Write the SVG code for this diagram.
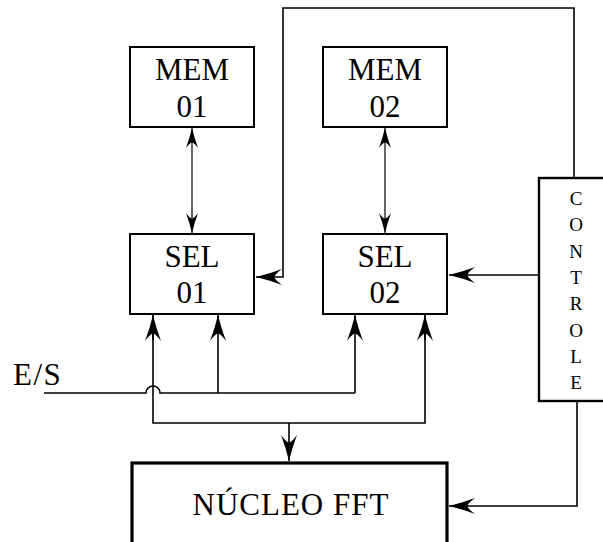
<svg xmlns="http://www.w3.org/2000/svg" width="603" height="542" viewBox="0 0 603 542">
  <style>
    .box { fill: #fff; stroke: #000; stroke-width: 2; }
    .thick { fill: #fff; stroke: #000; stroke-width: 3.2; }
    .lbl { font-family: "Liberation Serif", "DejaVu Serif", serif; font-size: 31px; fill: #000; text-anchor: middle; }
    .ctl { font-family: "Liberation Serif", "DejaVu Serif", serif; font-size: 19px; fill: #000; text-anchor: middle; }
    .wire { fill: none; stroke: #000; stroke-width: 1.6; }
    .thin { fill: none; stroke: #000; stroke-width: 1.2; }
  </style>
  <defs>
    <marker id="arr" markerUnits="userSpaceOnUse" markerWidth="27" markerHeight="17" refX="26" refY="8" orient="auto" overflow="visible">
      <path d="M26,8 Q12.5,4.8 0,0 Q7.5,5.5 7.5,8 Q7.5,10.5 0,16 Q12.5,11.2 26,8 Z" fill="#000"/>
    </marker>
    <marker id="arrs" markerUnits="userSpaceOnUse" markerWidth="21" markerHeight="13" refX="20" refY="6" orient="auto-start-reverse" overflow="visible">
      <path d="M20,6 Q10,3.6 0,0 Q5.5,4 5.5,6 Q5.5,8 0,12 Q10,8.4 20,6 Z" fill="#000"/>
    </marker>
  </defs>

  <g id="connectors">
    <!-- memory <-> selector links -->
    <line class="thin" x1="192" y1="128" x2="192" y2="233" marker-start="url(#arrs)" marker-end="url(#arrs)"/>
    <line class="thin" x1="385" y1="128" x2="385" y2="233" marker-start="url(#arrs)" marker-end="url(#arrs)"/>
    <!-- control to SEL 01 via top route -->
    <polyline class="wire" points="574,178 574,8 283,8 283,277 256,277" marker-end="url(#arr)"/>
    <!-- control to SEL 02 -->
    <line class="wire" x1="538" y1="275" x2="449" y2="275" marker-end="url(#arr)"/>
    <!-- control to FFT core -->
    <polyline class="wire" points="577,402 577,506 449,506" marker-end="url(#arr)"/>
    <!-- E/S input line with hop over the bus riser -->
    <path class="wire" d="M44,393 L146,393 A7,7 0 0 1 160,393 L355,393"/>
    <line class="wire" x1="218" y1="393" x2="218" y2="315" marker-end="url(#arr)"/>
    <line class="wire" x1="355" y1="393" x2="355" y2="315" marker-end="url(#arr)"/>
    <!-- output bus from FFT core -->
    <polyline class="wire" points="153,315 153,423 425,423 425,315"/>
    <line class="wire" x1="153" y1="340" x2="153" y2="315" marker-end="url(#arr)"/>
    <line class="wire" x1="425" y1="340" x2="425" y2="315" marker-end="url(#arr)"/>
    <line class="wire" x1="289" y1="423" x2="289" y2="461" marker-end="url(#arr)"/>
  </g>

  <g id="mem01">
    <rect class="box" x="130" y="47" width="124" height="80"/>
    <text class="lbl" x="192" y="80">MEM</text>
    <text class="lbl" x="192" y="117">01</text>
  </g>
  <g id="mem02">
    <rect class="box" x="323" y="47" width="124" height="80"/>
    <text class="lbl" x="385" y="80">MEM</text>
    <text class="lbl" x="385" y="117">02</text>
  </g>
  <g id="sel01">
    <rect class="box" x="130" y="234" width="124" height="80"/>
    <text class="lbl" x="192" y="267">SEL</text>
    <text class="lbl" x="192" y="303">01</text>
  </g>
  <g id="sel02">
    <rect class="box" x="323" y="234" width="124" height="80"/>
    <text class="lbl" x="385" y="267">SEL</text>
    <text class="lbl" x="385" y="303">02</text>
  </g>
  <g id="controle">
    <rect class="box" x="539" y="178" width="76" height="223" style="stroke-width:2.4"/>
    <text class="ctl" x="576" y="205">C</text>
    <text class="ctl" x="576" y="231">O</text>
    <text class="ctl" x="576" y="258">N</text>
    <text class="ctl" x="576" y="284">T</text>
    <text class="ctl" x="576" y="310">R</text>
    <text class="ctl" x="576" y="337">O</text>
    <text class="ctl" x="576" y="363">L</text>
    <text class="ctl" x="576" y="389">E</text>
  </g>
  <g id="nucleo">
    <rect class="thick" x="132" y="463" width="315" height="100"/>
    <text class="lbl" x="291" y="515" style="letter-spacing:1px">NÚCLEO FFT</text>
  </g>
  <g id="es">
    <text class="lbl" x="13" y="385" style="text-anchor:start;letter-spacing:1.5px">E/S</text>
  </g>
</svg>
